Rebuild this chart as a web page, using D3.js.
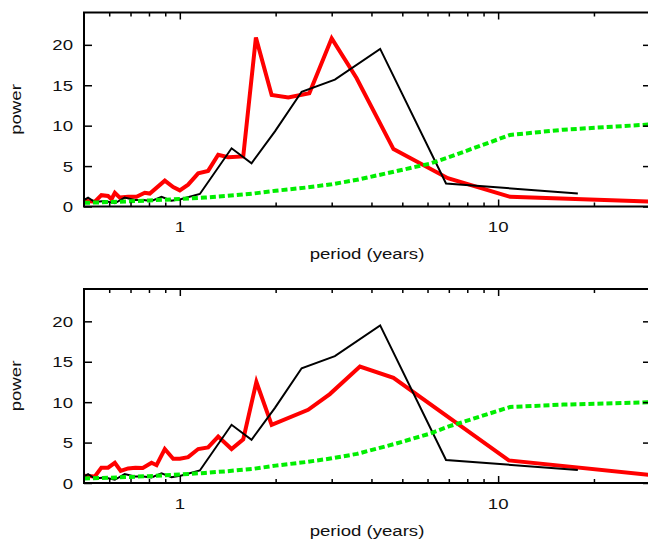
<!DOCTYPE html>
<html>
<head>
<meta charset="utf-8">
<script src="https://cdn.jsdelivr.net/npm/d3@7"></script>
<style>
body { margin: 0; background: #fff; }
svg { display: block; }
text { font-family: "Liberation Sans", Arial, sans-serif; font-size: 15.5px; fill: #111; }
</style>
</head>
<body>
<svg width="648" height="548"></svg>
<script>
// black line, same in both panels
var blackPeriod = [0.5, 0.515, 0.541, 0.581, 0.625, 0.671, 0.722, 0.767, 0.815, 0.876, 0.942, 1.012, 1.156, 1.454, 1.68, 1.99, 2.414, 3.07, 4.26, 6.86, 17.8];
var blackPower  = [0.8, 1.1, 0.55, 0.68, 0.4, 1.1, 0.8, 0.8, 0.68, 1.2, 0.72, 0.93, 1.55, 7.2, 5.35, 9.3, 14.2, 15.7, 19.5, 2.85, 1.6];

// red line, top panel
var red1Period = [0.5, 0.541, 0.567, 0.595, 0.61, 0.625, 0.648, 0.688, 0.731, 0.776, 0.805, 0.897, 0.953, 1.0, 1.062, 1.142, 1.227, 1.32, 1.419, 1.582, 1.734, 1.943, 2.192, 2.552, 3.0, 3.59, 4.69, 6.95, 10.9, 30];
var red1Power  = [0.7, 0.6, 1.4, 1.3, 0.9, 1.7, 1.1, 1.2, 1.2, 1.7, 1.6, 3.2, 2.4, 2.0, 2.7, 4.1, 4.4, 6.4, 6.1, 6.2, 20.9, 13.8, 13.5, 14.0, 20.8, 15.9, 7.1, 3.5, 1.2, 0.6];

// red line, bottom panel
var red2Period = [0.5, 0.541, 0.567, 0.595, 0.625, 0.652, 0.688, 0.725, 0.765, 0.815, 0.845, 0.897, 0.953, 1.0, 1.062, 1.142, 1.227, 1.32, 1.454, 1.582, 1.74, 1.943, 2.53, 2.96, 3.68, 4.69, 10.8, 30];
var red2Power  = [0.9, 0.8, 1.9, 1.9, 2.5, 1.5, 1.8, 1.9, 1.85, 2.5, 2.2, 4.2, 3.0, 3.0, 3.2, 4.2, 4.4, 5.75, 4.2, 5.4, 12.5, 7.2, 9.05, 11.0, 14.4, 13.0, 2.8, 1.0];

// green dotted line
var greenPeriod = [0.5, 0.6, 0.7, 0.8, 0.9, 1.0, 1.2, 1.4, 1.7, 2.0, 2.5, 3.0, 3.6, 4.7, 6.1, 7.0, 10.9, 16, 30];
var green1Power = [0.45, 0.55, 0.65, 0.75, 0.85, 0.93, 1.1, 1.3, 1.6, 1.95, 2.35, 2.75, 3.3, 4.3, 5.3, 6.1, 8.85, 9.5, 10.15];
var green2Power = [0.55, 0.65, 0.75, 0.85, 0.95, 1.05, 1.25, 1.45, 1.75, 2.15, 2.6, 3.05, 3.6, 4.8, 6.1, 7.0, 9.4, 9.7, 10.0];

var yTicks = [0, 5, 10, 15, 20];
var xMajor = [1, 10];
var xMinor = [0.6, 0.7, 0.8, 0.9, 2, 3, 4, 5, 6, 7, 8, 9, 20];

var svg = d3.select('svg');
var x = d3.scaleLog().domain([0.5, 30]).range([84, 650]);
var stretch = 1.2;

addPanel(12.5, 'p1', red1Period, red1Power, green1Power);
addPanel(289, 'p2', red2Period, red2Power, green2Power);

function label(g, px, py, str, anchor, rot) {
    g.append('text')
        .attr('transform', 'translate(' + px + ',' + py + ')' + (rot ? ' rotate(-90)' : '') + ' scale(' + stretch + ',1)')
        .style('text-anchor', anchor)
        .text(str);
}

function zip(a, b) {
    return a.map(function(d, i) { return [d, b[i]]; });
}

function addPanel(top, id, redP, redV, greenV) {
    var h = 194;
    var y = d3.scaleLinear().domain([0, 24]).range([top + h, top]);
    var g = svg.append('g');

    g.append('clipPath').attr('id', id).append('rect')
        .attr('x', x.range()[0]).attr('y', top).attr('width', x.range()[1] - x.range()[0]).attr('height', h);

    var line = d3.line().x(function(d) { return x(d[0]); }).y(function(d) { return y(d[1]); });
    var lines = g.append('g').attr('clip-path', 'url(#' + id + ')');
    lines.append('path').attr('d', line(zip(redP, redV)))
        .attr('fill', 'none').attr('stroke', '#ff0000').attr('stroke-width', 4).attr('stroke-linejoin', 'miter');
    lines.append('path').attr('d', line(zip(blackPeriod, blackPower)))
        .attr('fill', 'none').attr('stroke', '#000').attr('stroke-width', 2);
    lines.append('path').attr('d', line(zip(greenPeriod, greenV)))
        .attr('fill', 'none').attr('stroke', '#00ee00').attr('stroke-width', 4).attr('stroke-dasharray', '6,3');

    // ticks, all pointing inward
    var axes = [
        [d3.axisBottom(x).tickValues(xMajor).tickSize(-7), top + h],
        [d3.axisBottom(x).tickValues(xMinor).tickSize(-4), top + h],
        [d3.axisTop(x).tickValues(xMajor).tickSize(-7), top],
        [d3.axisTop(x).tickValues(xMinor).tickSize(-4), top]
    ];
    axes.forEach(function(a) {
        g.append('g').attr('transform', 'translate(0,' + a[1] + ')')
            .call(a[0].tickFormat(''))
            .call(function(s) { s.select('.domain').remove(); s.selectAll('line').attr('stroke-width', 1.5); });
    });
    g.append('g').attr('transform', 'translate(' + x.range()[0] + ',0)')
        .call(d3.axisLeft(y).tickValues(yTicks).tickSize(-8).tickFormat(''))
        .call(function(s) { s.select('.domain').remove(); s.selectAll('line').attr('stroke-width', 1.5); });
    g.append('g').attr('transform', 'translate(' + x.range()[1] + ',0)')
        .call(d3.axisRight(y).tickValues(yTicks).tickSize(-7).tickFormat(''))
        .call(function(s) { s.select('.domain').remove(); s.selectAll('line').attr('stroke-width', 1.5); });

    g.append('rect')
        .attr('x', x.range()[0]).attr('y', top)
        .attr('width', x.range()[1] - x.range()[0]).attr('height', h)
        .attr('fill', 'none').attr('stroke', '#000').attr('stroke-width', 2);

    yTicks.forEach(function(t) { label(g, 73, y(t) + 5.5, t, 'end'); });
    xMajor.forEach(function(t) { label(g, x(t), top + h + 25.5, t, 'middle'); });
    label(g, (x.range()[0] + x.range()[1]) / 2, top + h + 52.5, 'period (years)', 'middle');
    label(g, 21, top + h / 2, 'power', 'middle', true);
}
</script>
</body>
</html>
